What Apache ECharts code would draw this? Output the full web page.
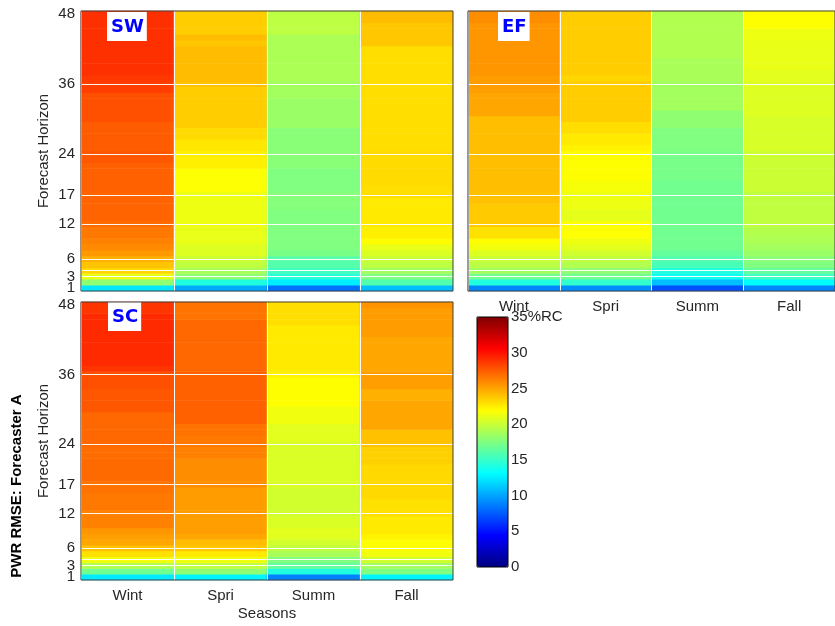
<!DOCTYPE html>
<html><head><meta charset="utf-8">
<script src="https://cdn.jsdelivr.net/npm/echarts@6/dist/echarts.min.js"></script>
<style>html,body{margin:0;padding:0;background:#fff}#c{width:835px;height:626px}</style>
</head><body><div id="c"></div>
<script>
// ---------- data ----------
const seasons = ['Wint', 'Spri', 'Summ', 'Fall'];
const horizons = ['1','2','3','4','5','6','7','8','9','10','11','12','13','14','15','16','17','18','19','20','21','22','23','24',
  '25','26','27','28','29','30','31','32','33','34','35','36','37','38','39','40','41','42','43','44','45','46','47','48'];
const yTickLabels = ['1', '3', '6', '12', '17', '24', '36', '48'];
const gridRows = ['3', '4', '6', '12', '17', '24', '36'];
const colorbarMin = 0, colorbarMax = 35, colorbarStep = 5;
const panelNames = ['SW', 'EF', 'SC'];

// values per horizon 1..48 (%RC)
const swWint = [12.3,18.0,21.1,23.3,23.9,24.6,25.4,25.9,26.2,26.5, 26.5,26.9,27.2,27.2,27.2,27.2,27.2,27.3,27.3,27.3, 27.3,27.3,27.7,27.7,27.5,27.5,27.5,27.5,27.5,27.9, 27.9,27.9,27.9,27.9,28.5,28.5,28.7,29.0,29.0,29.0, 29.0,29.0,29.0,29.0,29.0,29.0,29.0,29.0];
const swSpri = [10.2,14.2,18.0,18.9,19.7,20.1,20.7,20.7,21.1,21.1, 21.1,21.3,21.3,21.3,21.3,21.3,21.3,21.8,21.8,21.8, 21.8,22.4,22.4,22.4,22.7,22.7,23.1,23.1,23.6,23.6, 23.6,23.6,23.6,23.6,23.6,24.0,24.2,24.2,24.2,24.2, 24.2,24.2,23.8,24.2,23.6,23.6,23.6,23.6];
const swSumm = [8.2,12.5,14.5,15.3,16.0,16.1,17.3,17.5,17.5,17.5, 17.5,17.5,17.5,17.5,17.7,17.7,17.7,17.5,17.5,17.5, 17.5,17.8,17.8,17.8,17.8,17.8,17.8,17.8,18.4,18.4, 18.4,18.4,18.4,18.7,18.7,18.7,19.0,19.0,19.0,19.0, 19.0,19.0,19.0,19.0,19.6,19.6,19.6,19.6];
const swFall = [10.9,15.9,17.5,18.7,19.6,20.0,20.6,21.1,21.9,22.4, 22.4,22.6,22.6,22.6,22.6,22.6,23.0,23.0,23.1,23.1, 23.1,23.1,23.1,23.1,23.0,23.0,23.0,23.0,23.0,23.0, 23.0,23.0,23.0,23.0,23.0,23.0,23.0,23.0,23.0,23.0, 23.0,23.0,23.8,23.8,23.8,23.8,24.2,24.2];

const efWint = [9.0,14.2,17.0,18.7,19.5,20.0,20.7,21.4,21.9,22.9, 22.9,23.7,23.7,23.7,23.7,24.0,24.0,24.1,24.1,24.1, 24.1,24.1,24.1,24.1,24.1,24.1,24.1,24.1,24.1,24.1, 24.9,24.9,24.9,24.9,25.2,25.2,25.3,25.5,25.5,25.5, 25.5,25.5,25.5,25.5,25.5,25.5,25.8,25.8];
const efSpri = [9.2,14.8,17.0,18.0,19.2,19.7,20.3,20.9,21.3,21.8, 21.8,21.8,21.0,21.0,21.3,21.3,21.3,21.6,21.6,21.9, 21.9,21.9,21.9,21.9,22.3,22.6,22.6,23.0,23.0,23.6, 23.6,23.6,23.6,23.6,23.6,23.6,23.3,23.6,23.6,23.6, 23.6,23.6,23.6,23.6,23.6,23.6,23.6,23.6];
const efSumm = [7.1,10.9,13.6,14.2,15.6,15.9,16.5,17.0,17.0,17.0, 17.0,17.0,17.0,17.0,17.0,17.0,17.0,17.0,17.0,17.2, 17.2,17.2,17.2,17.2,17.5,17.5,17.5,17.5,18.0,18.0, 18.0,18.7,18.7,18.7,18.7,18.7,18.9,18.9,18.9,18.9, 19.2,19.2,19.2,19.2,19.2,19.2,19.2,19.2];
const efFall = [9.0,13.1,15.3,16.5,17.5,17.8,18.4,18.7,19.0,19.2, 19.3,19.7,19.7,19.7,19.7,19.7,19.7,20.1,20.1,20.1, 20.1,20.1,20.1,20.1,20.5,20.5,20.5,20.5,20.5,20.5, 20.7,20.7,20.7,20.7,20.7,20.7,20.9,20.9,21.1,21.1, 21.1,21.1,21.1,21.3,21.3,21.9,21.9,21.9];

const scWint = [12.4,17.0,19.2,21.4,22.9,24.0,24.9,25.2,25.5,26.2, 26.2,26.2,26.5,26.5,26.5,26.7,26.7,27.0,27.0,27.0, 27.0,26.9,26.9,27.1,27.1,27.1,27.1,27.1,27.1,27.7, 27.7,27.7,27.7,27.9,27.9,27.9,28.8,29.2,29.2,29.2, 29.2,29.2,29.2,29.2,29.2,29.2,28.8,28.8];
const scSpri = [12.8,18.0,19.7,21.3,22.6,23.8,24.2,24.9,25.2,25.2, 25.2,25.3,25.3,25.3,25.3,25.3,25.8,25.8,25.8,25.8, 25.8,26.2,26.2,26.5,26.5,26.7,26.7,27.3,27.3,27.3, 27.3,27.3,27.3,27.3,27.3,27.3,27.1,27.1,27.1,27.1, 27.1,27.1,27.1,27.1,27.1,26.7,26.7,26.7];
const scSumm = [8.8,14.2,16.5,17.5,18.9,19.7,20.3,20.8,20.9,20.6, 20.6,20.3,20.3,20.3,20.3,20.3,20.6,20.6,20.6,20.6, 20.6,20.6,20.6,20.6,20.9,20.9,20.9,21.4,21.4,21.4, 21.9,21.9,21.9,21.9,21.9,22.3,22.6,22.6,22.6,22.6, 22.6,22.6,22.6,22.6,23.0,23.0,23.0,23.0];
const scFall = [12.8,17.5,18.7,20.3,21.4,21.9,21.9,22.3,22.6,22.6, 22.6,22.9,22.9,22.9,23.2,23.2,23.2,23.2,23.2,23.2, 23.5,23.5,23.5,24.0,24.0,24.0,24.9,24.9,24.9,24.9, 24.9,24.6,24.6,25.2,25.2,25.2,24.9,24.9,24.9,24.9, 24.9,24.9,25.3,25.3,25.3,25.3,25.3,25.6];

// ---------- build ----------
const FONT = "'Liberation Sans', Arial, sans-serif";
const jet = ['#000080','#0000ff','#0080ff','#00ffff','#80ff80','#ffff00','#ff8000','#ff0000','#800000'];

function cells(cols) {
  const out = [];
  cols.forEach((col, s) => col.forEach((v, h) => out.push([s, h, v])));
  return out;
}
const panels = [
  { name: panelNames[0], cols: [swWint, swSpri, swSumm, swFall], grid: { left: 81, top: 11, width: 372, height: 280 }, showX: false, showY: true, xName: '', yName: 'Forecast Horizon', tag: { left: 107, top: 12 } },
  { name: panelNames[1], cols: [efWint, efSpri, efSumm, efFall], grid: { left: 468, top: 11, width: 372, height: 280 }, showX: true, showY: false, xName: '', yName: '', tag: { left: 498, top: 12 } },
  { name: panelNames[2], cols: [scWint, scSpri, scSumm, scFall], grid: { left: 81, top: 302, width: 372, height: 278 }, showX: true, showY: true, xName: 'Seasons', yName: 'Forecast Horizon', tag: { left: 108, top: 302 } }
];

const grids = [], xAxes = [], yAxes = [], series = [], titles = [];
panels.forEach((p, i) => {
  grids.push(Object.assign({ show: true, borderColor: '#404040', borderWidth: 1, backgroundColor: 'transparent', z: 10 }, p.grid));
  xAxes.push({
    gridIndex: i, type: 'category', data: seasons, z: 5,
    axisLine: { show: false }, axisTick: { show: false },
    axisLabel: { show: p.showX, margin: 8, fontSize: 15, color: '#262626', fontFamily: FONT },
    splitLine: { show: true, interval: 0, lineStyle: { color: '#ffffff', width: 1 } },
    name: p.xName, nameLocation: 'middle', nameGap: 26,
    nameTextStyle: { fontSize: 15, color: '#262626', fontFamily: FONT }
  });
  yAxes.push({
    gridIndex: i, type: 'category', data: horizons,
    axisLine: { show: false }, axisTick: { show: false },
    axisLabel: { show: p.showY, interval: 0, hideOverlap: false,
      formatter: v => yTickLabels.includes(v) ? v : '',
      margin: 6, fontSize: 15, color: '#262626', fontFamily: FONT },
    splitLine: { show: false },
    name: p.yName, nameLocation: 'middle', nameGap: 30,
    nameTextStyle: { fontSize: 15, color: '#262626', fontFamily: FONT }
  });
  series.push({
    type: 'heatmap', xAxisIndex: i, yAxisIndex: i, data: cells(p.cols),
    itemStyle: { borderWidth: 0 }, emphasis: { disabled: true }, progressive: 0, z: 2,
    markLine: {
      silent: true, symbol: ['none', 'none'], label: { show: false }, animation: false,
      lineStyle: { color: '#ffffff', width: 1, type: 'solid', opacity: 0.95 },
      emphasis: { disabled: true },
      data: gridRows.map(v => ({ yAxis: v }))
    }
  });
  titles.push({
    text: p.name, left: p.tag.left, top: p.tag.top, backgroundColor: '#ffffff', padding: [6, 3, 5, 4],
    textStyle: { color: '#0000ff', fontSize: 18, fontWeight: 'bold', fontFamily: "'DejaVu Sans', sans-serif" }
  });
});

// colorbar axis
grids.push({ left: 477, top: 317, width: 31, height: 250, show: true, borderColor: '#000', borderWidth: 1, backgroundColor: 'transparent', z: 10 });
xAxes.push({ gridIndex: 3, type: 'value', show: false, min: 0, max: 1 });
yAxes.push({
  gridIndex: 3, type: 'value', position: 'right', min: colorbarMin, max: colorbarMax, interval: colorbarStep,
  axisLine: { show: false }, axisTick: { show: false },
  splitLine: { show: false },
  axisLabel: { margin: 3, fontSize: 15, color: '#262626', fontFamily: FONT, formatter: v => v === colorbarMax ? v + '%RC' : String(v) }
});

const chart = echarts.init(document.getElementById('c'), null, { renderer: 'canvas' });
chart.setOption({
  animation: false,
  backgroundColor: '#ffffff',
  title: titles,
  grid: grids,
  xAxis: xAxes,
  yAxis: yAxes,
  visualMap: {
    type: 'continuous', min: colorbarMin, max: colorbarMax, seriesIndex: [0, 1, 2], dimension: 2,
    calculable: false, orient: 'vertical', left: 477, top: 317, itemWidth: 31, itemHeight: 250,
    padding: 0, text: null, showLabel: false, hoverLink: false,
    inRange: { color: jet }
  },
  series: series,
  graphic: [{
    type: 'text', x: 17, y: 486, rotation: Math.PI / 2,
    style: { text: 'PWR RMSE: Forecaster A', font: "bold 15px 'Liberation Sans', Arial, sans-serif", fill: '#000', align: 'center', verticalAlign: 'middle' }
  }]
});
</script>
</body></html>
